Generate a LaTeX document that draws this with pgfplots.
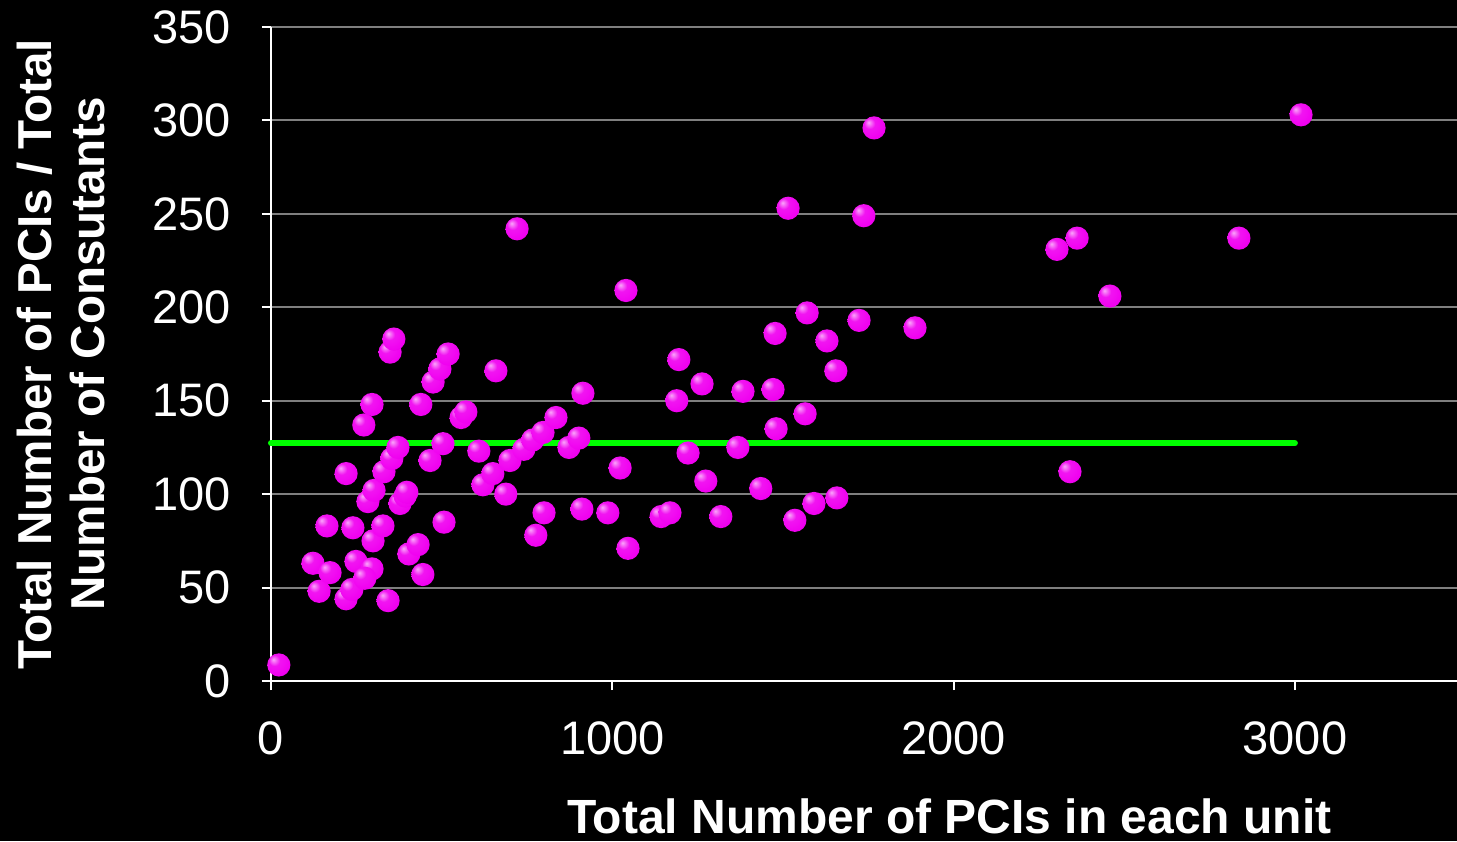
\documentclass[border=0pt]{standalone}
\usepackage{pgfplots}
\pgfplotsset{compat=1.18}
\usepackage{fontspec}
\setmainfont{Liberation Sans}
\definecolor{pcigreen}{HTML}{00FF00}
\definecolor{gridgray}{HTML}{7F7F7F}
\definecolor{ballmag}{HTML}{F000F0}
% glossy magenta sphere
\pgfdeclareradialshading{magball}{\pgfpoint{-12bp}{12bp}}{%
  color(0bp)=(ballmag!35!white); color(12bp)=(ballmag!92!white);
  color(30bp)=(ballmag); color(45bp)=(ballmag!80!black);
  color(65bp)=(ballmag!55!black)}
\pgfdeclareplotmark{magball}{%
  \pgfpathcircle{\pgfpointorigin}{\pgfplotmarksize}%
  \pgfshadepath{magball}{0}%
  \pgfusepath{}}
\begin{document}
\begin{tikzpicture}
% black page (1px = 0.5pt)
\fill[black] (-135.5pt,-80pt) rectangle (593pt,340.5pt);
\begin{axis}[
    at={(0,0)}, anchor=south west,
    scale only axis,
    width=593pt, height=327pt,
    xmin=0, xmax=3475,
    ymin=0, ymax=350,
    xtick={0,1000,2000,3000},
    ytick={0,50,...,350},
    axis x line*=bottom,
    axis y line*=left,
    axis line style={white, line width=1pt, -},
    tick style={white, line width=1pt},
    tick align=outside,
    major tick length=4.5pt,
    ymajorgrids,
    grid style={gridgray, line width=1pt},
    font=\fontsize{23.5}{28}\selectfont,
    ticklabel style={white},
    /pgf/number format/assume math mode=true,
    /pgf/number format/1000 sep={},
    xticklabel style={yshift=-12.5pt},
    yticklabel style={xshift=-12pt},
    xlabel={\bfseries Total Number of PCIs in each unit},
    xlabel style={white, at={(axis description cs:0.572,-0.207)}, anchor=center,
        font=\fontsize{24}{28}\selectfont},
    ylabel={\bfseries Total Number of PCIs / Total\\\bfseries Number of Consutants},
    ylabel style={white, align=center, at={(axis description cs:-0.177,0.5)},
        anchor=center, rotate=0, font=\fontsize{23.8}{26.5}\selectfont},
    clip=false,
]
% average line
\addplot[pcigreen, line width=3pt, line cap=round] coordinates {(0,127.3) (3000,127.3)};
% units
\addplot[only marks, mark=magball, mark size=5.8pt] coordinates {
    (23,8.6) (123,63) (141,48) (164,83) (173,58) (220,111) (220,44) (240,82)
    (237,49) (249,64) (272,137) (284,96) (296,148) (299,75) (302,102) (296,60)
    (275,55) (328,83) (331,112) (343,43) (349,176) (360,183) (354,119) (372,125)
    (378,95) (393,99) (398,101) (404,68) (431,73) (439,148) (445,57) (466,118)
    (475,160) (495,167) (504,127) (507,85) (519,175) (557,141) (571,144) (609,123)
    (621,105) (650,111) (659,166) (688,100) (700,118) (721,242) (741,124) (767,129)
    (776,78) (797,133) (800,90) (835,141) (873,125) (902,130) (911,92) (914,154)
    (987,90) (1023,114) (1040,209) (1046,71) (1143,88) (1169,90) (1189,150) (1195,172)
    (1222,122) (1263,159) (1274,107) (1318,88) (1368,125) (1383,155) (1435,103) (1471,156)
    (1477,186) (1480,135) (1515,253) (1535,86) (1565,143) (1571,197) (1591,95) (1629,182)
    (1655,166) (1658,98) (1723,193) (1737,249) (1767,296) (1887,189) (2303,231) (2341,112)
    (2362,237) (2458,206) (2836,237) (3018,303)
};
\end{axis}
\pgfresetboundingbox
\path (-135.5pt,-80pt) rectangle (593pt,340.5pt);
\end{tikzpicture}
\end{document}
